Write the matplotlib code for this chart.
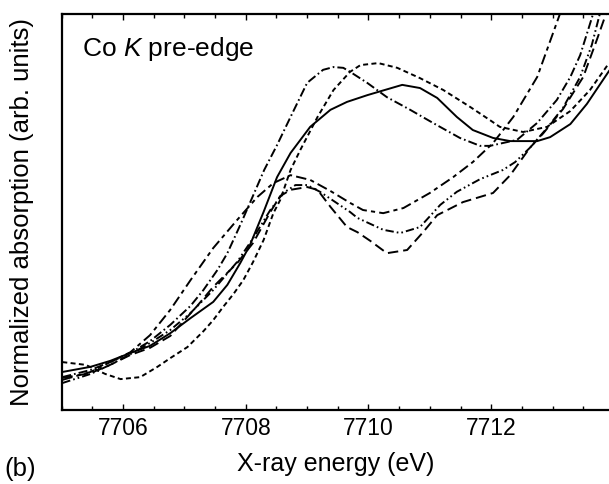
import matplotlib
matplotlib.use('Agg')
import matplotlib.pyplot as plt
from matplotlib.ticker import MultipleLocator, NullLocator

plt.rcParams['font.family'] = ['Liberation Sans', 'DejaVu Sans']
plt.rcParams['mathtext.fontset'] = 'custom'
plt.rcParams['mathtext.rm'] = 'Liberation Sans'
plt.rcParams['mathtext.it'] = 'Liberation Sans:italic'
plt.rcParams['lines.scale_dashes'] = False

# --- spectra (energy in eV, normalized absorption) ---
# solid
e_a = [7705.01, 7705.47, 7705.79, 7706.12, 7706.44, 7706.77, 7707.10, 7707.47, 7707.70, 7707.91,
       7708.07, 7708.29, 7708.51, 7708.73, 7709.05, 7709.38, 7709.65, 7709.98, 7710.22, 7710.55,
       7710.84, 7711.12, 7711.44, 7711.70, 7712.03, 7712.31, 7712.75, 7712.96, 7713.29, 7713.56, 7713.92]
mu_a = [0.096, 0.109, 0.124, 0.144, 0.162, 0.194, 0.232, 0.273, 0.316, 0.371,
        0.417, 0.500, 0.588, 0.649, 0.715, 0.758, 0.778, 0.795, 0.806, 0.821,
        0.813, 0.788, 0.740, 0.707, 0.687, 0.679, 0.679, 0.689, 0.722, 0.773, 0.856]
# short dashes
e_b = [7705.01, 7705.39, 7705.71, 7705.96, 7706.28, 7706.56, 7706.77, 7707.05, 7707.31, 7707.47,
       7707.63, 7707.80, 7707.96, 7708.12, 7708.29, 7708.45, 7708.56, 7708.73, 7708.89, 7709.17,
       7709.43, 7709.70, 7709.87, 7710.16, 7710.47, 7710.84, 7711.22, 7711.66, 7711.98, 7712.14,
       7712.52, 7712.91, 7713.29, 7713.61, 7713.92]
mu_b = [0.121, 0.114, 0.091, 0.078, 0.083, 0.109, 0.131, 0.159, 0.199, 0.227,
        0.260, 0.293, 0.328, 0.374, 0.429, 0.497, 0.530, 0.606, 0.657, 0.740,
        0.808, 0.854, 0.871, 0.876, 0.864, 0.838, 0.808, 0.765, 0.732, 0.715,
        0.702, 0.715, 0.755, 0.808, 0.876]
# dash-dot
e_c = [7705.01, 7705.47, 7705.79, 7706.12, 7706.44, 7706.77, 7707.10, 7707.31, 7707.54, 7707.70,
       7707.91, 7708.11, 7708.30, 7708.51, 7708.73, 7709.00, 7709.26, 7709.43, 7709.59, 7709.70,
       7709.98, 7710.30, 7710.68, 7711.05, 7711.49, 7711.82, 7711.98, 7712.42, 7712.75, 7713.07,
       7713.29, 7713.45, 7713.58, 7713.66, 7713.72]
mu_c = [0.083, 0.101, 0.121, 0.144, 0.174, 0.215, 0.263, 0.303, 0.354, 0.396,
        0.467, 0.538, 0.606, 0.669, 0.740, 0.826, 0.859, 0.866, 0.864, 0.854,
        0.826, 0.790, 0.758, 0.725, 0.687, 0.667, 0.667, 0.682, 0.725, 0.783,
        0.841, 0.896, 0.960, 1.000, 1.035]
# long dash - short dash
e_d = [7705.01, 7705.47, 7705.79, 7706.12, 7706.44, 7706.77, 7707.10, 7707.47, 7707.86, 7708.19,
       7708.45, 7708.73, 7709.05, 7709.38, 7709.70, 7709.91, 7710.24, 7710.57, 7711.00, 7711.38,
       7711.70, 7712.03, 7712.36, 7712.75, 7713.12, 7713.25]
mu_d = [0.076, 0.096, 0.121, 0.146, 0.189, 0.253, 0.328, 0.409, 0.480, 0.538,
        0.573, 0.593, 0.581, 0.553, 0.523, 0.505, 0.497, 0.510, 0.548, 0.588,
        0.626, 0.674, 0.740, 0.841, 1.000, 1.061]
# dash-dot-dot
e_e = [7705.01, 7705.47, 7705.79, 7706.12, 7706.44, 7706.77, 7707.10, 7707.47, 7707.86, 7708.12,
       7708.40, 7708.61, 7708.81, 7709.00, 7709.21, 7709.46, 7709.70, 7709.82, 7710.24, 7710.52,
       7710.84, 7711.17, 7711.44, 7711.82, 7712.19, 7712.39, 7712.63, 7712.91, 7713.17, 7713.45,
       7713.64, 7713.77, 7713.84]
mu_e = [0.068, 0.091, 0.114, 0.141, 0.169, 0.202, 0.245, 0.303, 0.374, 0.434,
        0.505, 0.548, 0.568, 0.568, 0.551, 0.525, 0.500, 0.485, 0.455, 0.447,
        0.462, 0.518, 0.551, 0.583, 0.606, 0.626, 0.662, 0.712, 0.763, 0.841,
        0.922, 1.000, 1.035]
# long dash
e_f = [7705.01, 7705.47, 7705.79, 7706.12, 7706.44, 7706.77, 7707.21, 7707.47, 7707.86, 7708.12,
       7708.40, 7708.56, 7708.73, 7709.00, 7709.17, 7709.38, 7709.65, 7709.82, 7710.03, 7710.30,
       7710.63, 7710.89, 7711.12, 7711.54, 7712.03, 7712.31, 7712.63, 7712.85, 7713.17, 7713.50,
       7713.72, 7713.87, 7713.92]
mu_f = [0.081, 0.093, 0.114, 0.139, 0.157, 0.187, 0.263, 0.311, 0.371, 0.422,
        0.500, 0.540, 0.556, 0.563, 0.556, 0.513, 0.462, 0.449, 0.427, 0.396,
        0.404, 0.449, 0.492, 0.525, 0.548, 0.593, 0.662, 0.699, 0.760, 0.841,
        0.934, 1.000, 1.023]

fig = plt.figure(figsize=(6.09, 4.84), dpi=100)
ax = fig.add_axes([0.1013, 0.1529, 0.8987, 0.8182])

lw = 1.4
ax.plot(e_a, mu_a, color='black', lw=lw, ls='-')
ax.plot(e_b, mu_b, color='black', lw=lw, ls=(0, (3.6, 2.4)))
ax.plot(e_c, mu_c, color='black', lw=lw, ls=(0, (6.5, 2.2, 1.2, 2.2)))
ax.plot(e_d, mu_d, color='black', lw=lw, ls=(0, (7.5, 3.0, 3.0, 3.0)))
ax.plot(e_e, mu_e, color='black', lw=lw, ls=(0, (6.0, 2.2, 1.2, 2.2, 1.2, 2.2)))
ax.plot(e_f, mu_f, color='black', lw=lw, ls=(0, (7.5, 3.6)))

ax.set_xlim(7705.0, 7713.92)
ax.set_ylim(0, 1)
ax.xaxis.set_major_locator(MultipleLocator(2))
ax.xaxis.set_minor_locator(MultipleLocator(0.5))
ax.yaxis.set_major_locator(NullLocator())
ax.tick_params(axis='x', which='both', direction='in', top=True, bottom=True,
               width=1.0, labelsize=16.5, pad=5)
ax.tick_params(axis='x', which='major', length=4.5)
ax.tick_params(axis='x', which='minor', length=2.7)
ax.spines['right'].set_visible(False)
for s in ['left', 'top', 'bottom']:
    ax.spines[s].set_linewidth(1.6)

ax.set_xlabel('X-ray energy (eV)', fontsize=18, labelpad=9)
ax.set_ylabel('Normalized absorption (arb. units)', fontsize=18.5)
ax.yaxis.set_label_coords(-0.05, 0.5)
ax.text(0.038, 0.894, r'Co $\mathit{K}$ pre-edge', transform=ax.transAxes,
        fontsize=19, va='baseline', ha='left')
fig.text(0.008, 0.03, '(b)', fontsize=18.5, va='center', ha='left')

fig.savefig('out.png', dpi=100)
